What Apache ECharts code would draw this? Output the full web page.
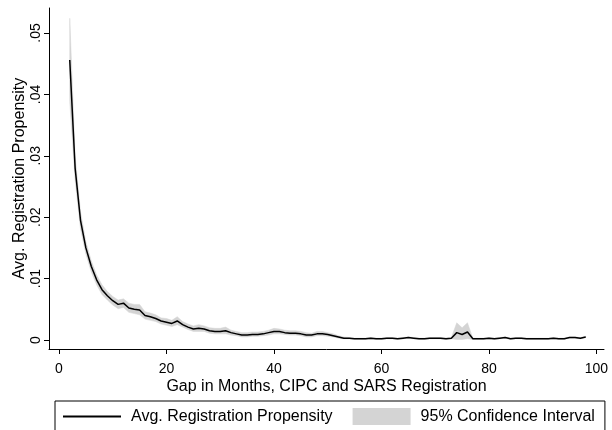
<!DOCTYPE html>
<html>
<head>
<meta charset="utf-8">
<script src="https://cdn.jsdelivr.net/npm/echarts@6/dist/echarts.min.js"></script>
<style>
html,body{margin:0;padding:0;background:#fff;}
#chart{width:612px;height:430px;}
</style>
</head>
<body>
<div id="chart"></div>
<script>
// Data
const months = [2,3,4,5,6,7,8,9,10,11,12,13,14,15,16,17,18,19,20,21,22,23,24,25,26,27,28,29,30,31,32,33,34,35,36,37,38,39,40,41,42,43,44,45,46,47,48,49,50,51,52,53,54,55,56,57,58,59,60,61,62,63,64,65,66,67,68,69,70,71,72,73,74,75,76,77,78,79,80,81,82,83,84,85,86,87,88,89,90,91,92,93,94,95,96,97,98];
const propensity = [
 .0456,.0280,.0195,.0150,.0120,.0098,.0082,.0072,.0064,.0058,
 .0060,.0052,.0050,.0049,.0040,.0038,.0035,.0031,.0029,.0027,
 .0031,.0025,.0021,.0018,.0019,.0018,.0015,.0014,.0014,.0015,
 .0012,.0010,.0008,.0008,.0009,.0009,.0010,.0012,.0014,.0014,
 .0012,.0011,.0011,.0010,.0008,.0008,.0010,.0010,.0009,.0007,
 .0005,.0003,.0003,.0002,.0002,.0002,.0003,.0002,.0002,.0003,
 .0003,.0002,.0003,.0004,.0003,.0002,.0002,.0003,.0003,.0003,
 .0002,.0003,.0012,.0009,.0013,.0002,.0002,.0002,.0003,.0002,
 .0003,.0004,.0002,.0003,.0003,.0002,.0002,.0002,.0002,.0002,
 .0003,.0002,.0002,.0004,.0004,.0003,.0005];
const ciHigh = [
 .0524,.0300,.0209,.0160,.0129,.0106,.0090,.0079,.0071,.0065,
 .0067,.0060,.0058,.0058,.0046,.0044,.0041,.0036,.0035,.0032,
 .0038,.0030,.0026,.0023,.0025,.0023,.0020,.0019,.0019,.0021,
 .0016,.0014,.0012,.0012,.0013,.0013,.0014,.0016,.0019,.0018,
 .0016,.0015,.0015,.0014,.0012,.0011,.0014,.0014,.0012,.0010,
 .0007,.0005,.0004,.0003,.0003,.0003,.0004,.0003,.0003,.0004,
 .0004,.0003,.0004,.0005,.0004,.0003,.0003,.0004,.0004,.0004,
 .0003,.0004,.0028,.0020,.0028,.0003,.0003,.0003,.0004,.0003,
 .0004,.0005,.0003,.0004,.0004,.0003,.0003,.0003,.0003,.0003,
 .0004,.0003,.0003,.0005,.0005,.0004,.0006];
const ciLow = [
 .0388,.0260,.0181,.0140,.0111,.0090,.0074,.0065,.0057,.0051,
 .0053,.0045,.0043,.0041,.0034,.0032,.0030,.0026,.0024,.0022,
 .0025,.0021,.0017,.0014,.0014,.0014,.0011,.0010,.0010,.0010,
 .0008,.0007,.0005,.0005,.0006,.0006,.0007,.0008,.0010,.0010,
 .0009,.0008,.0008,.0007,.0005,.0005,.0007,.0007,.0006,.0005,
 .0003,.0002,.0002,.0001,.0001,.0001,.0002,.0001,.0001,.0002,
 .0002,.0001,.0002,.0003,.0002,.0001,.0001,.0002,.0002,.0002,
 .0001,.0002,.0001,.0001,.0002,.0001,.0001,.0001,.0002,.0001,
 .0002,.0003,.0001,.0002,.0002,.0001,.0001,.0001,.0001,.0001,
 .0002,.0001,.0001,.0003,.0003,.0002,.0004];
const xTicks = [0,20,40,60,80,100];
const yTicks = [0,0.01,0.02,0.03,0.04,0.05];
const xTitle = 'Gap in Months, CIPC and SARS Registration';
const yTitle = 'Avg. Registration Propensity';
const lineName = 'Avg. Registration Propensity';
const bandName = '95% Confidence Interval';

const FONT = 'Liberation Sans, Arial, Helvetica, sans-serif';
const BAND = '#d4d4d4';
const chart = echarts.init(document.getElementById('chart'), null, {renderer:'canvas'});
const bandData = months.map((m,i)=>[m, ciLow[i], ciHigh[i]]);
const lineData = months.map((m,i)=>[m, propensity[i]]);

function renderBand(params, api){
  if (params.dataIndex !== 0) return null;
  const upper = months.map((m,i)=>api.coord([m, ciHigh[i]]));
  const lower = months.map((m,i)=>api.coord([m, ciLow[i]])).reverse();
  return {
    type:'polygon',
    shape:{points:upper.concat(lower)},
    style:{fill:BAND, stroke:BAND, lineWidth:0.5}
  };
}

chart.setOption({
  animation:false,
  backgroundColor:'#fff',
  grid:{left:49,right:8,top:8,bottom:81,containLabel:false},
  xAxis:{
    type:'value', min:-1.86, max:101.4,
    splitLine:{show:false},
    axisLine:{show:true,onZero:false,lineStyle:{color:'#000',width:1}},
    axisTick:{show:true,customValues:xTicks,length:5,lineStyle:{color:'#000'}},
    axisLabel:{customValues:xTicks,color:'#000',fontSize:14,fontFamily:FONT,margin:13},
    name:xTitle, nameLocation:'middle', nameGap:30, nameMoveOverlap:false,
    nameTextStyle:{color:'#000',fontSize:16,fontFamily:FONT}
  },
  yAxis:{
    type:'value', min:-0.001466, max:0.054072,
    splitLine:{show:false},
    axisLine:{show:true,onZero:false,lineStyle:{color:'#000',width:1}},
    axisTick:{show:true,customValues:yTicks,length:5,lineStyle:{color:'#000'}},
    axisLabel:{customValues:yTicks,rotate:90,color:'#000',fontSize:14,fontFamily:FONT,margin:6,
      formatter:v=>v===0?'0':String(v).replace(/^0/,'')},
    name:yTitle, nameLocation:'middle', nameGap:21, nameRotate:90, nameMoveOverlap:false,
    nameTextStyle:{color:'#000',fontSize:16,fontFamily:FONT}
  },
  legend:{
    left:55, top:401, orient:'horizontal',
    padding:[7,10,7,7], itemGap:20, itemWidth:58, itemHeight:17,
    borderColor:'#000', borderWidth:1, backgroundColor:'#fff',
    textStyle:{color:'#000',fontSize:16,fontFamily:FONT,padding:[0,0,0,5]},
    data:[
      {name:lineName, itemStyle:{color:'rgba(0,0,0,0)'}},
      {name:bandName, icon:'rect', itemStyle:{color:BAND}}
    ]
  },
  series:[
    {name:bandName, type:'custom', data:bandData, renderItem:renderBand,
     encode:{x:0,y:[1,2]}, itemStyle:{color:BAND}, silent:true, z:1},
    {name:lineName, type:'line', data:lineData, symbol:'none',
     itemStyle:{color:'#000'},
     lineStyle:{color:'#000',width:1.5}, z:3}
  ]
});
</script>
</body>
</html>
